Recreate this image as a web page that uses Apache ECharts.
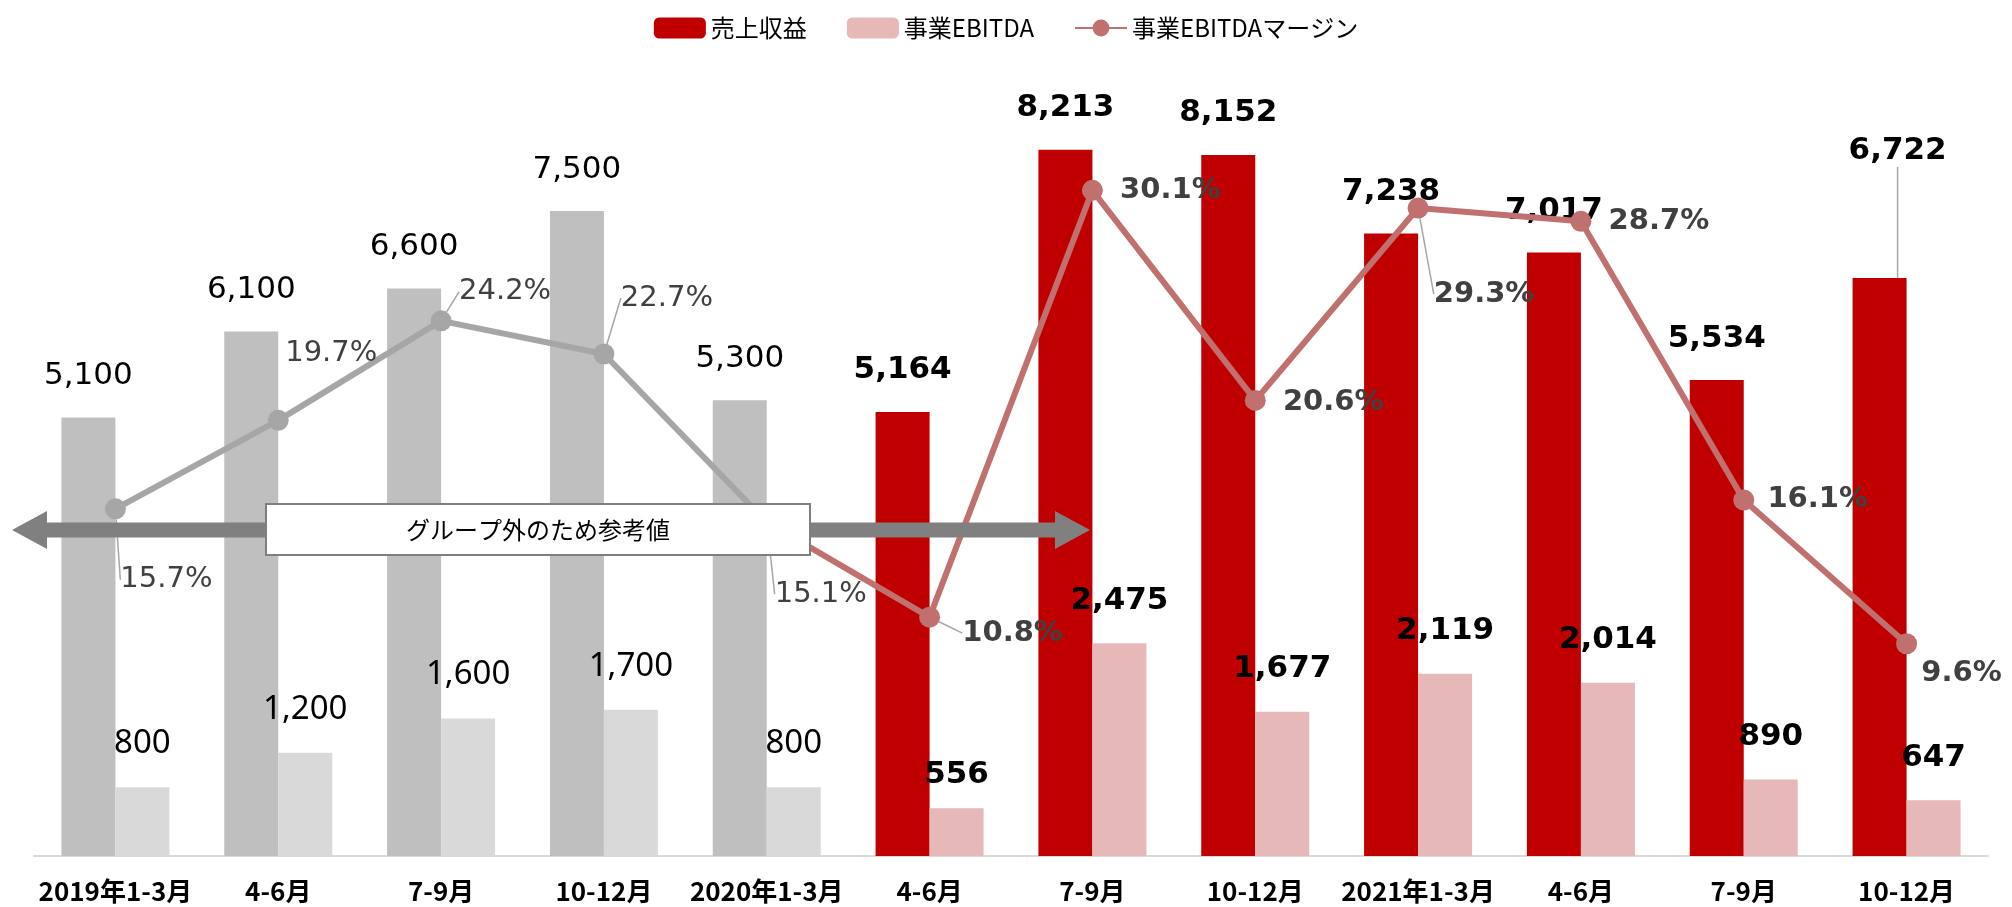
<!DOCTYPE html>
<html><head><meta charset="utf-8">
<script src="https://cdn.jsdelivr.net/npm/echarts@6/dist/echarts.min.js"></script>
<style>html,body{margin:0;padding:0;background:#fff}#c{width:2012px;height:907px}</style>
</head><body><div id="c"></div>
<script>
// ---- data ----
var categories = ['2019年1-3月','4-6月','7-9月','10-12月','2020年1-3月','4-6月','7-9月','10-12月','2021年1-3月','4-6月','7-9月','10-12月'];
var revenue = [5100,6100,6600,7500,5300,5164,8213,8152,7238,7017,5534,6722];
var ebitda = [800,1200,1600,1700,800,556,2475,1677,2119,2014,890,647];
var margin = [15.7,19.7,24.2,22.7,15.1,10.8,30.1,20.6,29.3,28.7,16.1,9.6];
var referenceCount = 5; // periods outside the group (drawn in gray)
var seriesNames = ['売上収益','事業EBITDA','事業EBITDAマージン'];
var arrowNote = 'グループ外のため参考値';

// ---- styles ----
var NUM = 'DejaVu Sans', JP = 'Noto Sans CJK JP';
var pctOffsets = [[51,71],[53,-67],[64,-29],[63,-56],[54,72],[83,16],[78,0],[78,2],[66,86],[78,0],[74,0],[55,30]];
var pctLeader  = [1,0,1,1,1,1,0,0,1,0,0,0];
var revMoved = {11:[18,-85]};
var ebMoved = {5:[0,9]};

function fmt(v){ return Number(v).toLocaleString('en-US'); }

var revData = revenue.map(function(v,i){
  var ref = i < referenceCount;
  return { value: v,
    itemStyle: { color: ref ? '#BFBFBF' : '#C00000' },
    label: { fontWeight: ref ? 'normal' : 'bold' },
    labelLine: { show: !!revMoved[i] } };
});
var ebData = ebitda.map(function(v,i){
  var ref = i < referenceCount;
  return { value: v,
    itemStyle: { color: ref ? '#D9D9D9' : '#E6B9B8' },
    label: ref ? { fontWeight: 'normal', fontFamily: 'Noto Sans', fontSize: 33 } : { fontWeight: 'bold' } };
});
var grayLine = margin.map(function(v,i){
  return i < referenceCount ? { value: v, label: { show: true }, labelLine: { show: !!pctLeader[i] } } : '-';
});
var redLine = margin.map(function(v,i){
  return i >= referenceCount - 1 ? { value: v, label: { show: i >= referenceCount }, labelLine: { show: !!pctLeader[i] } } : '-';
});

function pctLayout(p){ var o = pctOffsets[p.dataIndex]; return o ? { dx: o[0], dy: o[1] } : {}; }

var chart = echarts.init(document.getElementById('c'), null, { renderer: 'canvas' });
chart.setOption({
  animation: false,
  backgroundColor: '#fff',
  legend: {
    data: seriesNames, top: 11, left: 'center',
    itemWidth: 52, itemHeight: 21, itemGap: 40,
    textStyle: { fontFamily: JP, fontSize: 24, color: '#000' }
  },
  grid: { left: 34, right: 24, top: 82, bottom: 51, containLabel: false },
  xAxis: {
    type: 'category', data: categories,
    axisTick: { show: false },
    axisLine: { lineStyle: { color: '#D9D9D9', width: 2 } },
    axisLabel: { interval: 0, margin: 22, color: '#000', fontFamily: JP, fontWeight: 'bold', fontSize: 26 }
  },
  yAxis: [
    { type: 'value', min: 0, max: 9000, show: false },
    { type: 'value', min: 0, max: 35, show: false }
  ],
  series: [
    { name: seriesNames[0], type: 'bar', barWidth: 54, barGap: '0%', data: revData,
      itemStyle: { color: '#C00000' },
      label: { show: true, position: 'top', distance: 26, color: '#000', fontFamily: NUM, fontSize: 31, formatter: function(p){ return fmt(p.value); } },
      labelLine: { show: false, lineStyle: { color: '#A6A6A6', width: 1.5 } },
      labelLayout: function(p){ var o = revMoved[p.dataIndex]; return o ? { dx: o[0], dy: o[1] } : {}; }
    },
    { name: seriesNames[1], type: 'bar', barWidth: 54, barGap: '0%', data: ebData,
      itemStyle: { color: '#E6B9B8' },
      label: { show: true, position: 'top', distance: 27, color: '#000', fontFamily: NUM, fontSize: 31, formatter: function(p){ return fmt(p.value); } },
      labelLayout: function(p){ var o = ebMoved[p.dataIndex]; return o ? { dx: o[0], dy: o[1] } : {}; }
    },
    { name: 'ref-margin', type: 'line', yAxisIndex: 1, data: grayLine,
      lineStyle: { color: '#A6A6A6', width: 6 }, itemStyle: { color: '#A6A6A6' },
      symbol: 'circle', symbolSize: 21, z: 3,
      label: { show: true, position: 'inside', color: '#404040', fontFamily: NUM, fontSize: 29, formatter: function(p){ return p.value + '%'; } },
      labelLine: { show: false, lineStyle: { color: '#A6A6A6', width: 1.5 } },
      labelLayout: pctLayout
    },
    { name: seriesNames[2], type: 'line', yAxisIndex: 1, data: redLine,
      lineStyle: { color: '#C0706F', width: 6 }, itemStyle: { color: '#C0706F' },
      symbol: 'circle', symbolSize: 21, z: 3,
      label: { show: true, position: 'inside', color: '#404040', fontFamily: NUM, fontWeight: 'bold', fontSize: 29, formatter: function(p){ return p.value.toFixed ? p.value.toFixed(1) + '%' : p.value + '%'; } },
      labelLine: { show: false, lineStyle: { color: '#A6A6A6', width: 1.5 } },
      labelLayout: pctLayout
    }
  ],
  graphic: [
    { type: 'polygon', z: 100,
      shape: { points: [[12,530],[47,511],[47,522.5],[1055,522.5],[1055,511],[1090,530],[1055,549],[1055,537.5],[47,537.5],[47,549]] },
      style: { fill: '#808080' } },
    { type: 'rect', z: 101, shape: { x: 266, y: 504, width: 544, height: 51 },
      style: { fill: '#fff', stroke: '#7F7F7F', lineWidth: 2 } },
    { type: 'text', z: 102, x: 538, y: 530,
      style: { text: arrowNote, fill: '#000', font: '24px "Noto Sans CJK JP"', align: 'center', verticalAlign: 'middle' } }
  ]
});
</script></body></html>
